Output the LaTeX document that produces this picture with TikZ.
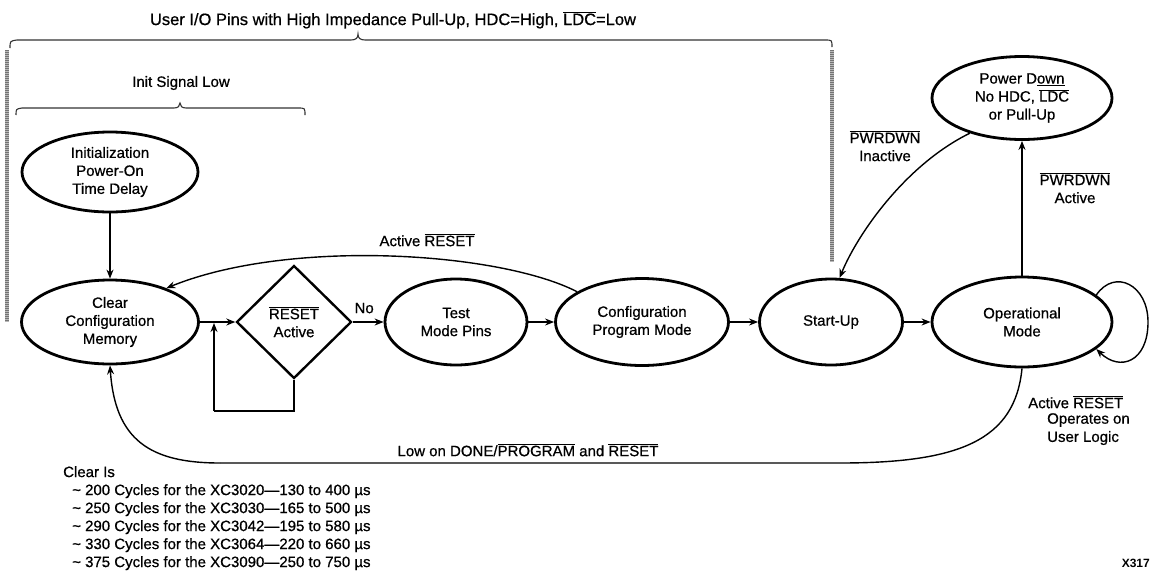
\documentclass[tikz,border=0pt]{standalone}
\usepackage{fontspec}
\setmainfont{Liberation Sans}[UprightFeatures={FakeBold=0.7}]
\usetikzlibrary{shapes.geometric,arrows.meta}
\newcommand{\ovl}[1]{\ensuremath{\overline{\mbox{#1}}}}
\begin{document}
\begin{tikzpicture}[x=1pt,y=-1pt,
  every node/.style={font=\fontsize{15}{18}\selectfont, align=center},
  st/.style={ellipse, draw, line width=2.8pt, inner sep=0pt},
  arr/.style={line width=1.4pt, -{Stealth[length=9pt,width=7pt]}},
  ln/.style={line width=1.4pt},
  br/.style={line width=1.1pt, draw=black!80},
  dotbase/.style={line width=4pt, draw=black!28},
  dotl/.style={line width=4pt, draw=black!55, dash pattern=on 1pt off 1pt},
  lbl/.style={inner sep=0pt}]
\useasboundingbox (0,0) rectangle (1150,576);

% states
\node[st, minimum width=176pt, minimum height=80pt] (init) at (110,172) {Initialization\\Power-On\\Time Delay};
\node[st, minimum width=177pt, minimum height=84pt] (clear) at (110,322) {Clear\\Configuration\\Memory};
\node[diamond, draw, line width=2.4pt, inner sep=0pt, minimum width=115pt, minimum height=113pt] (dia) at (294,322) {\ovl{RESET}\\Active};
\node[st, minimum width=142pt, minimum height=86pt] (test) at (456,322) {Test\\Mode Pins};
\node[st, minimum width=173pt, minimum height=87pt] (config) at (642,322) {Configuration\\Program Mode};
\node[st, minimum width=143pt, minimum height=86pt] (start) at (831,322) {Start-Up};
\node[st, minimum width=180pt, minimum height=90pt] (op) at (1022,322) {Operational\\Mode};
\node[st, minimum width=180pt, minimum height=83pt] (pd) at (1022,98) {Power D\underline{own}\\No HDC, \ovl{LDC}\\or Pull-Up};

% braces and dotted lines
\draw[br] (10,48) .. controls (10,41) .. (17,40) -- (351,40) .. controls (356,40) and (358,38) .. (358,34)
          .. controls (358,38) and (360,40) .. (365,40) -- (825,40) .. controls (832,40) .. (832,47);
\draw[br] (16,115) .. controls (16,109) .. (22,108) -- (174,108) .. controls (178,108) and (180,106) .. (180,103)
          .. controls (180,106) and (182,108) .. (186,108) -- (298,108) .. controls (305,108) .. (305,115);
\draw[dotbase] (7,50) -- (7,322);
\draw[dotl] (7,50) -- (7,322);
\draw[dotbase] (832,50) -- (832,262);
\draw[dotl] (832,50) -- (832,262);

\node[lbl, font=\fontsize{16.5}{19}\selectfont] (ttop) at (393,20) {User I/O Pins with High Impedance Pull-Up, HDC=High, \ovl{LDC}=Low};
\node[lbl] (tinit) at (181,83) {Init Signal Low};

% connectors
\draw[arr] (init) -- (clear);
\draw[arr] (clear.east) -- (dia.west);
\draw[arr] (dia.east) -- node[lbl, above=8pt, xshift=-4pt] (no) {No} (test.west);
\draw[arr] (test.east) -- (config.west);
\draw[arr] (config.east) -- (start.west);
\draw[arr] (start.east) -- (op.west);
\draw[arr] (op.north) -- (pd.south);

\coordinate (lpa) at (294,411);
\coordinate (lpb) at (214,411);
\coordinate (lpc) at (214,323);
\draw[ln] (dia.south) -- (lpa) -- (lpb);
\draw[arr] (lpb) -- (lpc);

\draw[arr] (config.155) .. controls (500,252) and (290,238) .. (clear.31);
\node[lbl] (tar) at (427,240) {Active \ovl{RESET}};

\draw[arr] (pd.214) .. controls (905,165) and (857,235) .. (start.79);
\node[lbl] (tpi) at (885,146) {\ovl{PWRDWN}\\Inactive};
\node[lbl] (tpa) at (1075,188) {\ovl{PWRDWN}\\Active};

\draw[arr] (op.20) .. controls (1115,268) and (1148,285) .. (1148,322)
           .. controls (1148,362) and (1120,372) .. (op.-20);

\coordinate (bra) at (840,463);
\coordinate (brb) at (220,463);
\draw[ln] (op.south) .. controls (1015,440) and (960,463) .. (bra) -- (brb);
\draw[arr] (brb) .. controls (150,463) and (115,440) .. (clear.south);
\node[lbl] (tlow) at (528,450) {Low on DONE/\ovl{PROGRAM} and \ovl{RESET}};

\node[lbl, anchor=west] (tao1) at (1028,402) {Active \ovl{RESET}};
\node[lbl, anchor=west] (tao2) at (1047,420) {Operates on};
\node[lbl, anchor=west] (tao3) at (1047,438) {User Logic};

\node[lbl, anchor=north west, align=left] (clist) at (63,466) {Clear Is\\
\hspace*{9pt}\textasciitilde\ 200 Cycles for the XC3020---130 to 400 µs\\
\hspace*{9pt}\textasciitilde\ 250 Cycles for the XC3030---165 to 500 µs\\
\hspace*{9pt}\textasciitilde\ 290 Cycles for the XC3042---195 to 580 µs\\
\hspace*{9pt}\textasciitilde\ 330 Cycles for the XC3064---220 to 660 µs\\
\hspace*{9pt}\textasciitilde\ 375 Cycles for the XC3090---250 to 750 µs};

\node[lbl, anchor=east, font=\bfseries\fontsize{12}{14}\selectfont] (xid) at (1150,563) {X317};
\end{tikzpicture}
\end{document}
